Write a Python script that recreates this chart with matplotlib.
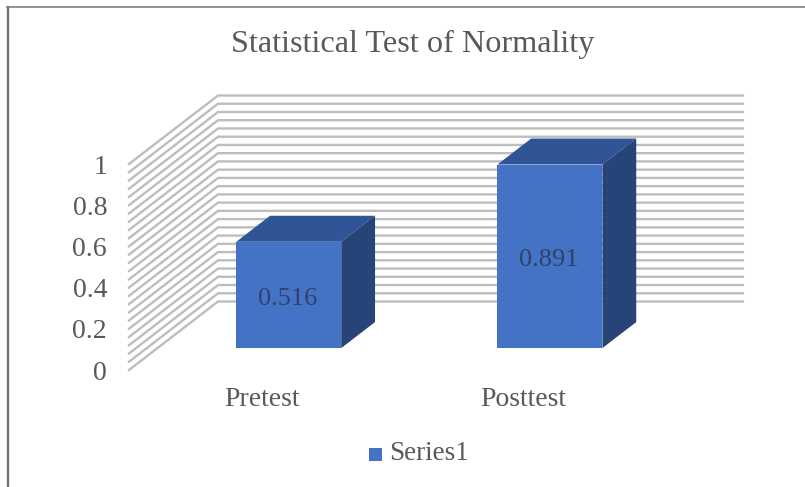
import matplotlib
matplotlib.use("Agg")
import matplotlib.pyplot as plt
import numpy as np
from matplotlib.patches import Polygon, Rectangle

plt.rcParams['font.family'] = ['Liberation Serif', 'DejaVu Serif']

title = "Statistical Test of Normality"
categories = ["Pretest", "Posttest"]
values = [0.516, 0.891]
value_labels = ["0.516", "0.891"]
series_name = "Series1"
y_ticks = [0, 0.2, 0.4, 0.6, 0.8, 1]
y_tick_labels = ["0", "0.2", "0.4", "0.6", "0.8", "1"]
grid_levels = np.arange(0, 26) / 25

W, H = 805, 487
PX_X, PX_Y = 262.5, 206.0      # pixels per category, per unit of value
X0, Y0 = 129.0, 370.0          # pixel position of the front-left floor corner
DX, DY = 89.0 / PX_X, 68.5 / PX_Y   # shift of full depth in data units
BAR_W, Z0, Z1 = 0.40, 0.32, 0.70
STEP = 0.995

fig = plt.figure(figsize=(W / 100, H / 100), dpi=100, facecolor="white")
ax = fig.add_axes([0, 0, 1, 1])
ax.set_xlim(-X0 / PX_X, (W - X0) / PX_X)
ax.set_ylim(-(H - Y0) / PX_Y, Y0 / PX_Y)
ax.axis("off")


def proj(x, y, z):
    return x + z * DX, y + z * DY


def px(xp, yp):
    return (xp - X0) / PX_X, (Y0 - yp) / PX_Y


# Walls
for level in grid_levels:
    x0, y0 = proj(0, level, 0)
    x1, y1 = proj(0, level, 1)
    x2, y2 = proj(2, level, 1)
    ax.plot([x0, x1, x2], [y0, y1, y2], color="#bdbdbd", lw=1.7,
            solid_joinstyle="miter", zorder=1)

# Bars
for i, (v, lab) in enumerate(zip(values, value_labels)):
    c = 0.5 + i * STEP
    xl, xr = c - BAR_W / 2, c + BAR_W / 2
    front = [proj(xl, 0, Z0), proj(xr, 0, Z0), proj(xr, v, Z0), proj(xl, v, Z0)]
    top = [proj(xl, v, Z0), proj(xr, v, Z0), proj(xr, v, Z1), proj(xl, v, Z1)]
    side = [proj(xr, 0, Z0), proj(xr, 0, Z1), proj(xr, v, Z1), proj(xr, v, Z0)]
    ax.add_patch(Polygon(front, fc="#4472c4", ec="none", zorder=3))
    ax.add_patch(Polygon(top, fc="#2f5597", ec="none", zorder=3))
    ax.add_patch(Polygon(side, fc="#264478", ec="none", zorder=3))
    cx, cy = proj(c, v / 2, Z0)
    ax.text(cx - 1 / PX_X, cy - 4 / PX_Y, lab, ha="center", va="center", fontsize=19,
            color="#2f4268", zorder=4)
    lx, _ = proj(c, 0, Z0)
    ax.text(lx - 27 / PX_X, px(0, 400)[1], categories[i], ha="center", va="center",
            fontsize=20, color="#595959")

# Value axis labels
for t, lab in zip(y_ticks, y_tick_labels):
    ax.text(-22 / PX_X, t - 3 / PX_Y, lab, ha="right", va="center", fontsize=20, color="#595959")

# Title
tx, ty = px(413, 44)
ax.text(tx, ty, title, ha="center", va="center", fontsize=23.2, color="#595959")

# Legend
lx, ly = px(369, 461)
ax.add_patch(Rectangle((lx, ly), 13 / PX_X, 13 / PX_Y, fc="#4472c4", ec="none"))
tx, ty = px(389, 454)
ax.text(tx, ty, series_name, ha="left", va="center", fontsize=19.5, color="#595959")

# Chart frame
fig.add_artist(plt.Line2D([8 / W, 8 / W], [0, 1 - 7 / H], color="#6e6e6e", lw=1.6))
fig.add_artist(plt.Line2D([7.2 / W, 1], [1 - 7 / H, 1 - 7 / H], color="#808080", lw=1.2))
fig.savefig("out.png", dpi=100)
